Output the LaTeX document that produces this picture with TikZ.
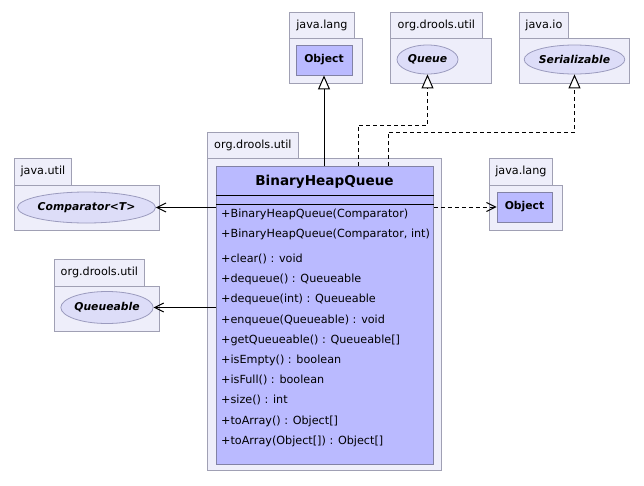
\documentclass[tikz,border=0pt]{standalone}
\usepackage{fontspec}
\setmainfont{DejaVu Sans}
\usetikzlibrary{shapes.geometric,arrows.meta}
\definecolor{pkgfill}{RGB}{238,238,250}
\definecolor{pkgline}{RGB}{160,160,180}
\definecolor{clsfill}{RGB}{186,186,255}
\definecolor{clsline}{RGB}{130,130,165}
\definecolor{iffill}{RGB}{221,221,248}
\definecolor{ifline}{RGB}{155,155,190}
\newcommand{\regf}{\fontsize{11.2}{13}\selectfont}
\newcommand{\boldf}{\fontsize{10.8}{13}\selectfont\bfseries}
\newcommand{\ifacef}{\fontsize{10.8}{13}\selectfont\bfseries\itshape}
\newcommand{\titlef}{\fontsize{13.6}{16}\selectfont\bfseries}
\begin{document}
\begin{tikzpicture}[x=1pt,y=-1pt,
  pkgtab/.style={draw=pkgline, fill=pkgfill, line width=0.8pt, anchor=north west, inner sep=0pt, font=\regf},
  pkgbody/.style={draw=pkgline, fill=pkgfill, line width=0.8pt, anchor=north west, inner sep=0pt},
  clsbox/.style={draw=clsline, fill=clsfill, line width=0.9pt, inner sep=0pt, font=\boldf},
  iface/.style={ellipse, draw=ifline, fill=iffill, line width=0.8pt, inner sep=0pt, font=\ifacef},
  meth/.style={anchor=west, inner sep=0pt, font=\regf, text height=8pt, text depth=2pt},
  inherit/.style={-{Triangle[length=14pt,width=12pt,fill=white]}, line width=1pt},
  dep/.style={-{Straight Barb[length=9pt,width=9pt]}, line width=1pt},
  dashedline/.style={dash pattern=on 4pt off 3pt}
]
\useasboundingbox[fill=white] (0,0) rectangle (644,485);

% top: java.lang Object
\node[pkgbody, minimum width=73pt, minimum height=45pt] (b1) at (289,38) {};
\node[pkgtab, minimum width=65pt, minimum height=26pt] (t1) at (289,12) {java.lang};
\node[clsbox, minimum width=56pt, minimum height=30pt] (objT) at (324,60) {Object};

% top: org.drools.util Queue
\node[pkgbody, minimum width=101pt, minimum height=45pt] (b2) at (390,38) {};
\node[pkgtab, minimum width=92pt, minimum height=26pt] (t2) at (390,12) {org.drools.util};
\node[iface, minimum width=61pt, minimum height=29pt] (queueE) at (427.5,59.5) {Queue};

% top: java.io Serializable
\node[pkgbody, minimum width=110pt, minimum height=45pt] (b3) at (519,38) {};
\node[pkgtab, minimum width=49pt, minimum height=26pt] (t3) at (519,12) {java.io};
\node[iface, minimum width=95pt, minimum height=29pt] (ser) at (574.5,59.5) {Serializable};

% left: java.util Comparator
\node[pkgbody, minimum width=145pt, minimum height=45pt] (b4) at (14,185) {};
\node[pkgtab, minimum width=57pt, minimum height=27pt] (t4) at (14,158) {java.util};
\node[iface, minimum width=131pt, minimum height=31pt] (comp) at (86.5,207.5) {Comparator<T>};

% left: org.drools.util Queueable
\node[pkgbody, minimum width=105pt, minimum height=45pt] (b5) at (54,286) {};
\node[pkgtab, minimum width=90pt, minimum height=27pt] (t5) at (54,259) {org.drools.util};
\node[iface, minimum width=90pt, minimum height=32pt] (qa) at (107,307.5) {Queueable};

% right: java.lang Object
\node[pkgbody, minimum width=73pt, minimum height=45pt] (b6) at (489,185) {};
\node[pkgtab, minimum width=63pt, minimum height=27pt] (t6) at (489,158) {java.lang};
\node[clsbox, minimum width=55pt, minimum height=30pt] (objR) at (524.5,207) {Object};

% main package
\node[pkgbody, minimum width=234pt, minimum height=312pt] (b7) at (207,158) {};
\node[pkgtab, minimum width=91pt, minimum height=26pt] (t7) at (207,132) {org.drools.util};
\node[clsbox, minimum width=217pt, minimum height=298pt, anchor=north west] (cls) at (216,166) {};
\node[font=\titlef, inner sep=0pt] (title) at (324.5,182) {BinaryHeapQueue};
\draw[line width=1pt] ([yshift=-29pt]cls.north west) -- ([yshift=-29pt]cls.north east);
\draw[line width=1pt] ([yshift=-38pt]cls.north west) -- ([yshift=-38pt]cls.north east);

\node[meth] (m1) at (221,214) {+BinaryHeapQueue(Comparator)};
\node[meth] (m2) at (221,234) {+BinaryHeapQueue(Comparator, int)};
\node[meth] (m3) at (221,259) {+clear() : void};
\node[meth] (m4) at (221,279.5) {+dequeue() : Queueable};
\node[meth] (m5) at (221,299.7) {+dequeue(int) : Queueable};
\node[meth] (m6) at (221,320) {+enqueue(Queueable) : void};
\node[meth] (m7) at (221,340) {+getQueueable() : Queueable[]};
\node[meth] (m8) at (221,360.3) {+isEmpty() : boolean};
\node[meth] (m9) at (221,380.5) {+isFull() : boolean};
\node[meth] (m10) at (221,400.7) {+size() : int};
\node[meth] (m11) at (221,421) {+toArray() : Object[]};
\node[meth] (m12) at (221,441.2) {+toArray(Object[]) : Object[]};

% connectors
\coordinate (qbend) at (427.5,125);
\coordinate (sbend) at (574.5,132);
\draw[inherit] (objT.south |- cls.north) -- (objT.south);
\draw[inherit, dashedline] ([xshift=142pt]cls.north west) |- (qbend) -- (queueE.south);
\draw[inherit, dashedline] ([xshift=172pt]cls.north west) |- (sbend) -- (ser.south);
\draw[dep] (cls.west |- comp.east) -- (comp.east);
\draw[dep] (cls.west |- qa.east) -- (qa.east);
\draw[dep, dashedline] (cls.east |- objR.west) -- (objR.west);
\end{tikzpicture}
\end{document}
